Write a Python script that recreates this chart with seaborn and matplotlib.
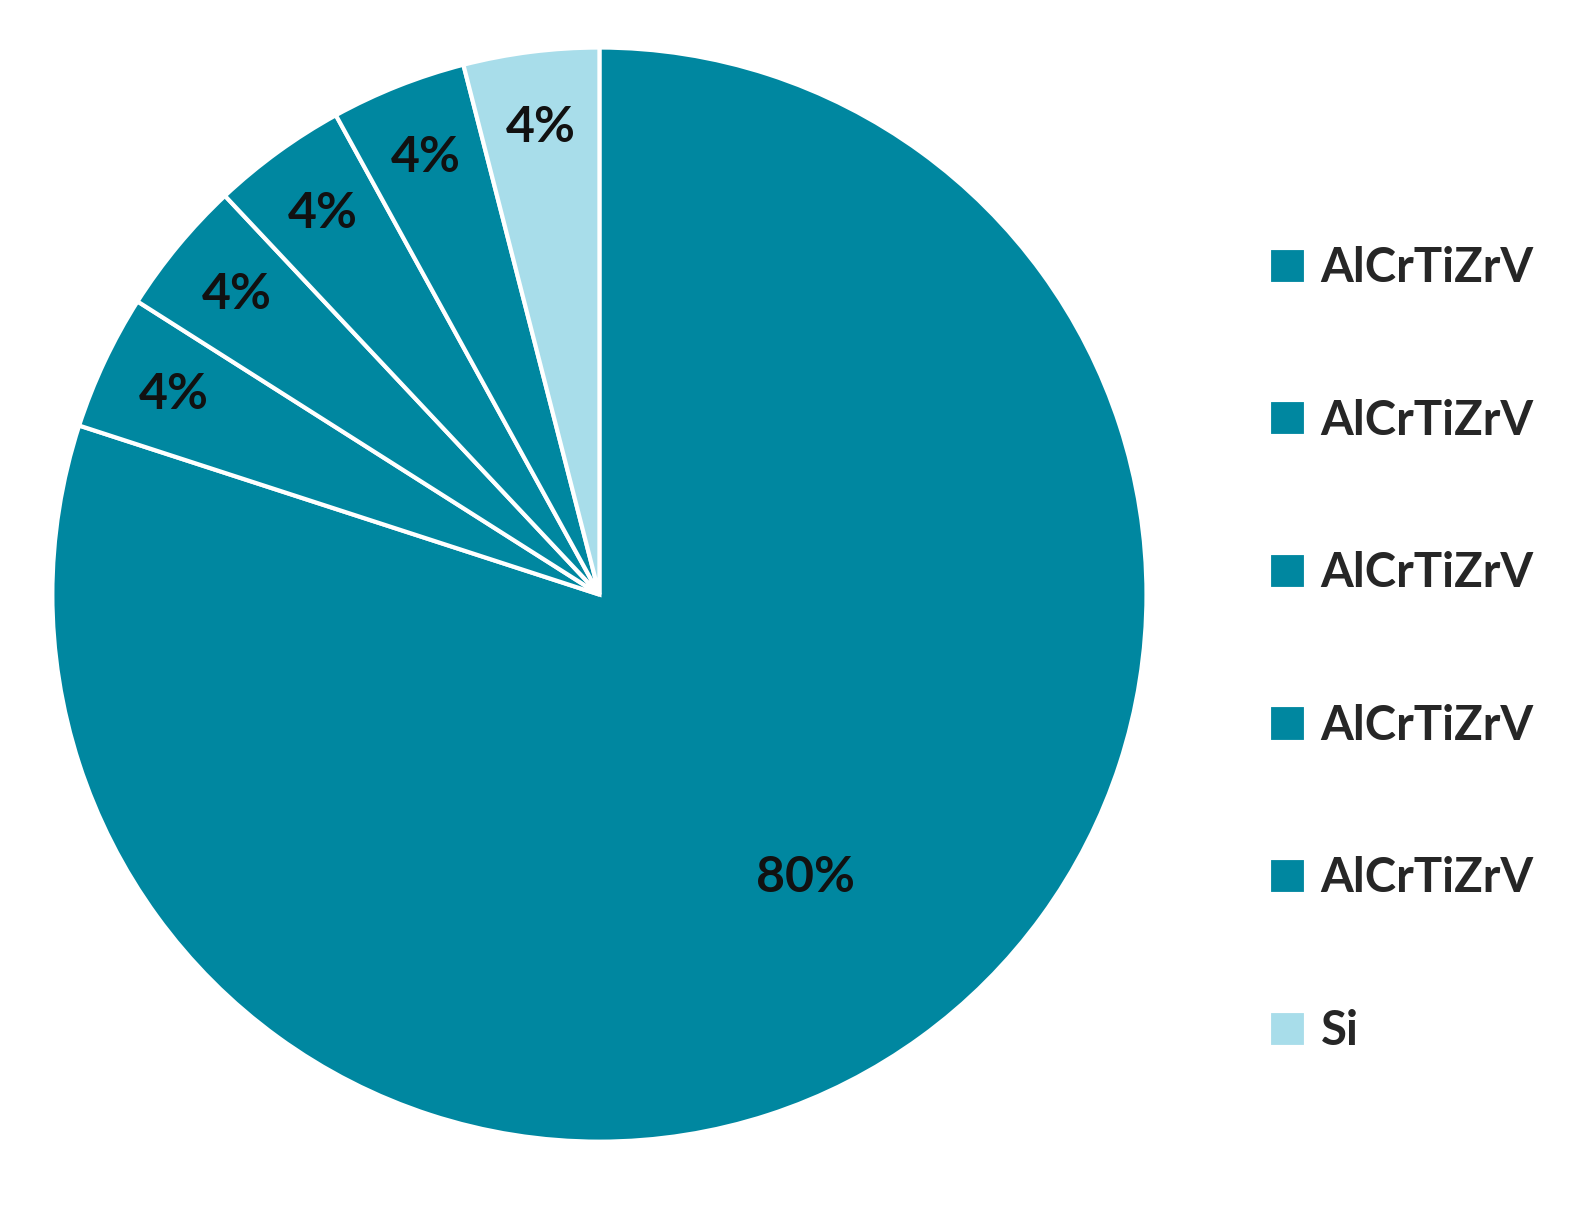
import matplotlib
matplotlib.use("Agg")
import matplotlib.pyplot as plt
import seaborn as sns

sns.set_theme(style="white")
plt.rcParams['font.family'] = ['Lato', 'DejaVu Sans']

labels = ["AlCrTiZrV", "AlCrTiZrV", "AlCrTiZrV", "AlCrTiZrV", "AlCrTiZrV", "Si"]
values = [80, 4, 4, 4, 4, 4]
colors = ["#0087A0"] * 5 + ["#A8DDEA"]

fig = plt.figure(figsize=(15.9, 12.11), dpi=100)
ax = fig.add_axes([0.031, 0.055, 0.692, 0.908])

wedges, texts, autotexts = ax.pie(
    values, colors=colors, startangle=90, counterclock=False,
    autopct="%d%%", pctdistance=0.86,
    wedgeprops=dict(edgecolor="white", linewidth=3),
    textprops=dict(fontsize=36, fontweight="bold", color="#111111"),
)
# push the big slice label inward
x, y = autotexts[0].get_position()
autotexts[0].set_position((x * 0.64 / 0.86, y * 0.64 / 0.86))
ax.set_xlim(-1.005, 1.005)
ax.set_ylim(-1.005, 1.005)
ax.set_aspect("equal")

ax.legend(wedges, labels, loc="center left", bbox_to_anchor=(1.07, 0.45),
          frameon=False, prop=dict(size=34, weight="bold"),
          labelspacing=2.3, handlelength=0.8, handleheight=0.8, handletextpad=0.3)

fig.savefig("out.png", dpi=100)
